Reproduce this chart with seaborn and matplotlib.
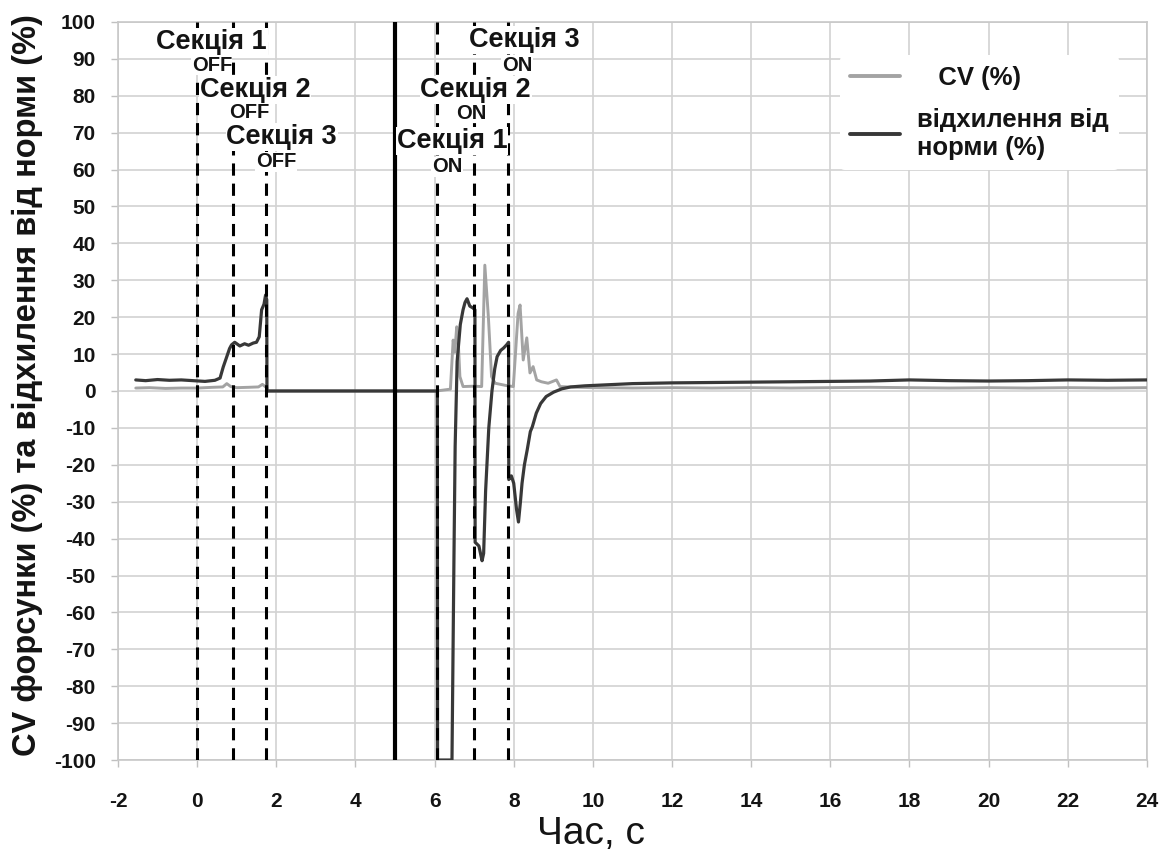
import matplotlib
matplotlib.use("Agg")
import matplotlib.pyplot as plt
from matplotlib.lines import Line2D
import seaborn as sns

# ---- data ----
cv_time = [-1.55, -1.2, -0.8, -0.4, 0.0, 0.4, 0.65, 0.75, 0.85, 1.0, 1.3, 1.55, 1.65, 1.72, 1.76, 1.77,
           6.05, 6.40, 6.47, 6.51, 6.56, 6.60, 6.64, 6.72, 7.0, 7.19, 7.27, 7.36, 7.44, 7.53, 7.8, 7.99,
           8.11, 8.16, 8.24, 8.33, 8.41, 8.49, 8.58, 8.70, 8.87, 9.08, 9.17, 9.6, 10, 11, 12, 13, 14, 15,
           16, 17, 18, 19, 20, 21, 22, 23, 24]
cv_values = [0.8, 0.9, 0.7, 0.8, 0.8, 1.0, 1.1, 2.0, 1.2, 0.9, 1.0, 1.1, 1.8, 1.2, 1.0, 0.0,
             0.0, 0.5, 13.8, 10.5, 17.4, 13.0, 3.9, 1.2, 1.3, 1.2, 34.1, 20.0, 3.9, 2.1, 1.5, 1.2,
             21.0, 23.3, 8.4, 14.4, 4.9, 6.6, 3.0, 2.5, 2.1, 3.0, 1.2, 1.0, 0.9, 0.8, 0.9, 0.8, 0.9, 0.8,
             0.9, 1.0, 0.9, 0.8, 0.9, 0.8, 0.9, 0.8, 0.9]

dev_time = [-1.55, -1.3, -1.0, -0.7, -0.4, -0.1, 0.2, 0.45, 0.58, 0.66, 0.75, 0.82, 0.87, 0.95, 1.08,
            1.2, 1.3, 1.42, 1.5, 1.57, 1.63, 1.69, 1.73, 1.76, 1.765, 3.0, 5.0, 6.07, 6.075, 6.44,
            6.49, 6.52, 6.57, 6.65, 6.72, 6.77, 6.82, 6.89, 6.97, 7.02, 7.025, 7.12, 7.2, 7.24, 7.29,
            7.37, 7.45, 7.52, 7.58, 7.67, 7.74, 7.82, 7.87, 7.875, 7.94, 8.0, 8.07, 8.12, 8.17, 8.21,
            8.27, 8.34, 8.42, 8.47, 8.57, 8.68, 8.82, 9.01, 9.22, 9.44, 9.8, 10.2, 11, 12, 13, 14, 15,
            16, 17, 18, 19, 20, 21, 22, 23, 24]
dev_values = [3.0, 2.8, 3.1, 2.9, 3.0, 2.8, 2.6, 2.9, 3.5, 6.5, 9.3, 11.5, 12.5, 13.2, 12.2,
              12.8, 12.4, 13.0, 13.2, 14.7, 22.0, 23.5, 26.0, 24.7, 0.0, 0.0, 0.0, 0.0, -100, -100,
              -45, -15, 8, 18, 22, 24, 25, 23, 22.5, 22, -41, -42, -46, -44, -27,
              -10, 0, 6, 9.3, 11, 11.6, 12.5, 13.2, -24, -23, -25, -32, -35.5, -30, -25,
              -20, -16, -11, -9.7, -6, -3.4, -1.5, -0.3, 0.6, 1.1, 1.4, 1.6, 2.0, 2.2, 2.3, 2.4, 2.5,
              2.6, 2.7, 3.0, 2.8, 2.7, 2.8, 3.0, 2.9, 3.0]

section_off_times = [0.0, 0.9, 1.75]
section_on_times = [6.05, 7.0, 7.85]
threshold_time = 5.0

x_ticks = list(range(-2, 25, 2))
y_ticks = list(range(-100, 101, 10))

legend_labels = ["   CV (%)", "відхилення від\nнорми (%)"]
x_label = "Час, с"
y_label = "CV форсунки (%) та відхилення від норми (%)"

# labels: (text, sub, x, y_main, x_sub, y_sub)
off_labels = [("Секція 1", "OFF", 0.37, 94.6, 0.37, 88.3),
              ("Секція 2", "OFF", 1.46, 81.6, 1.31, 75.6),
              ("Секція 3", "OFF", 2.14, 68.8, 1.99, 62.1)]
on_labels = [("Секція 3", "ON", 8.28, 95.1, 8.08, 88.3),
             ("Секція 2", "ON", 7.04, 81.6, 6.92, 75.3),
             ("Секція 1", "ON", 6.44, 67.8, 6.31, 60.7)]

# ---- style ----
sns.set_theme(style="whitegrid")
plt.rcParams['font.family'] = ['Liberation Sans', 'DejaVu Sans']

CV_COLOR = "#a3a3a3"
DEV_COLOR = "#383838"
TXT = "#141414"

fig, ax = plt.subplots(figsize=(11.76, 8.55), dpi=100)
fig.subplots_adjust(left=0.1003, right=0.9753, bottom=0.1111, top=0.9743)

sns.lineplot(x=cv_time, y=cv_values, ax=ax, color=CV_COLOR, lw=2.1,
             estimator=None, sort=False, zorder=3)
sns.lineplot(x=dev_time, y=dev_values, ax=ax, color=DEV_COLOR, lw=2.3,
             estimator=None, sort=False, zorder=4)

for t in section_off_times + section_on_times:
    ax.axvline(t, color="black", lw=2.2, ls=(0, (4.0, 2.6)), zorder=5)
ax.axvline(threshold_time, color="black", lw=3.0, zorder=5)

for name, sub, x, y, xs, ys in off_labels + on_labels:
    ax.text(x, y, name, ha="center", va="center", fontsize=19.5, fontweight="bold",
            color=TXT, zorder=7,
            bbox=dict(facecolor="white", edgecolor="none", pad=0.5))
    ax.text(xs, ys, sub, ha="center", va="center", fontsize=14.5, fontweight="bold",
            color=TXT, zorder=6,
            bbox=dict(facecolor="white", edgecolor="none", pad=0.5))

ax.set_xlim(-2, 24)
ax.set_ylim(-100, 100)
ax.set_xticks(x_ticks)
ax.set_yticks(y_ticks)
ax.set_xticklabels([str(v) for v in x_ticks], fontsize=15, fontweight="bold", color=TXT)
ax.set_yticklabels([str(v) for v in y_ticks], fontsize=15, fontweight="bold", color=TXT)
ax.tick_params(axis="x", length=5, width=1, color="#c0c0c0", pad=18, direction="out", bottom=True)
ax.tick_params(axis="y", length=5, width=1, color="#c0c0c0", pad=11, direction="out", left=True)

ax.grid(True, color="#d2d2d2", lw=1.2)
for sp in ax.spines.values():
    sp.set_color("#c8c8c8")
    sp.set_linewidth(1.2)

ax.set_xlabel(x_label, fontsize=28, color=TXT)
ax.xaxis.set_label_coords(0.46, -0.076)
ax.set_ylabel(y_label, fontsize=23.5, fontweight="bold", color=TXT)
ax.yaxis.set_label_coords(-0.073, 0.508)

handles = [Line2D([0], [0], color=CV_COLOR, lw=2.8),
           Line2D([0], [0], color=DEV_COLOR, lw=2.8)]
leg = ax.legend(handles, legend_labels, loc="upper left", bbox_to_anchor=(0.689, 0.972),
                frameon=True, framealpha=1.0, facecolor="white", edgecolor="none",
                prop={"size": 18.5, "weight": "bold"}, handlelength=1.95, labelspacing=0.7,
                borderpad=0.4, handletextpad=0.66)
for txt in leg.get_texts():
    txt.set_color(TXT)
leg.set_zorder(8)

fig.savefig("out.png", dpi=100)
